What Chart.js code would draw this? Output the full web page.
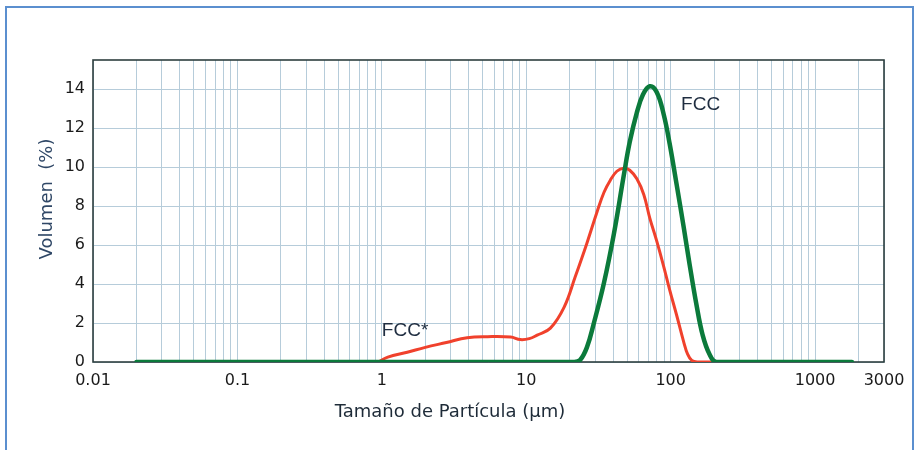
<!DOCTYPE html>
<html>
<head>
<meta charset="utf-8">
<script src="https://cdn.jsdelivr.net/npm/chart.js@4"></script>
<style>
  html, body { margin: 0; padding: 0; background: #ffffff; }
  #wrap { position: relative; width: 917px; height: 450px; }
  #frame { position: absolute; left: 5px; top: 6px; width: 909px; height: 460px;
           border-left: 2px solid #5b8fcf; border-top: 2px solid #5b8fcf; border-right: 2px solid #5b8fcf; box-sizing: border-box; }
  canvas { position: absolute; left: 0; top: 0; }
</style>
</head>
<body>
<div id="wrap">
  <div id="frame"></div>
  <canvas id="c" width="917" height="450"></canvas>
</div>
<script>
// ---- data ----
const fccX = [0.02, 21.5, 23.6, 26.3, 29.4, 34.5, 40.5, 47.4, 52.1, 58.3, 64.1, 71.6, 80.1, 89.5, 98.4, 110, 122.9, 135.3, 151.2, 166.3, 185.7, 207.5, 1800];
const fccY = [0, 0, 0.1, 0.75, 2.0, 4.05, 6.6, 9.6, 11.3, 12.8, 13.7, 14.15, 13.85, 12.7, 11.2, 9.1, 6.95, 5.0, 2.9, 1.4, 0.4, 0, 0];

const fccStarX = [0.95, 1.1, 1.5, 2.0, 2.8, 3.9, 5.4, 7.8, 9.1, 10.5, 11.9, 14.7, 18.3, 21.8, 26.3, 30.9, 34.5, 38.2, 42.4, 47.4, 52.1, 58.3, 65.1, 71.6, 80.1, 89.5, 98.4, 110, 122.9, 131, 140, 153, 210];
const fccStarY = [0, 0.25, 0.5, 0.75, 1.0, 1.25, 1.3, 1.28, 1.15, 1.2, 1.38, 1.74, 2.82, 4.36, 6.1, 7.7, 8.7, 9.33, 9.79, 9.95, 9.84, 9.4, 8.6, 7.4, 6.2, 4.9, 3.7, 2.4, 1.05, 0.4, 0.08, 0, 0];

const xLabelValues = [0.01, 0.1, 1, 10, 100, 1000, 3000];
const xLabelTexts  = ['0.01', '0.1', '1', '10', '100', '1000', '3000'];
const yTickValues  = [0, 2, 4, 6, 8, 10, 12, 14];

const seriesNames = ['FCC', 'FCC*'];
const xTitle = 'Tamaño de Partícula (µm)';
const yTitle = 'Volumen  (%)';

// grid values: 1..9 x each decade, up to 3000
const xGridValues = [];
for (let d = -2; d <= 2; d++) {
  for (let m = 1; m <= 9; m++) xGridValues.push(parseFloat((m * Math.pow(10, d)).toPrecision(6)));
}
xGridValues.push(1000, 2000, 3000);

const toPoints = (xs, ys) => xs.map((x, i) => ({ x: x, y: ys[i] }));

const frameAndText = {
  id: 'frameAndText',
  beforeDatasetsDraw(chart) {
    const { ctx, chartArea: a } = chart;
    ctx.save();
    ctx.strokeStyle = '#2e3f3f';
    ctx.lineWidth = 1.6;
    ctx.strokeRect(a.left, a.top, a.right - a.left, a.bottom - a.top);
    ctx.restore();
  },
  afterDatasetsDraw(chart) {
    const { ctx } = chart;
    const xs = chart.scales.x, ys = chart.scales.y;
    ctx.save();
    ctx.fillStyle = '#1f2d40';
    ctx.font = '19px "Liberation Sans", Arial, sans-serif';
    ctx.textAlign = 'left';
    ctx.textBaseline = 'middle';
    ctx.fillText(seriesNames[0], xs.getPixelForValue(118), ys.getPixelForValue(13.2));
    ctx.fillText(seriesNames[1], xs.getPixelForValue(1.0), ys.getPixelForValue(1.6));
    ctx.fillStyle = '#1e2b38';
    ctx.font = '18px "DejaVu Sans", sans-serif';
    ctx.textAlign = 'center';
    ctx.fillText(xTitle, 450, 412);
    ctx.translate(47, 199);
    ctx.rotate(-Math.PI / 2);
    ctx.fillStyle = '#2f4766';
    ctx.fillText(yTitle, 0, 0);
    ctx.restore();
  }
};

new Chart(document.getElementById('c'), {
  type: 'line',
  data: {
    datasets: [
      { label: seriesNames[0], data: toPoints(fccX, fccY), borderColor: '#0b7a3b', borderWidth: 4.5,
        pointRadius: 0, tension: 0.4, borderCapStyle: 'round', borderJoinStyle: 'round', fill: false },
      { label: seriesNames[1], data: toPoints(fccStarX, fccStarY), borderColor: '#f0412c', borderWidth: 3,
        pointRadius: 0, tension: 0.4, borderCapStyle: 'round', borderJoinStyle: 'round', fill: false }
    ]
  },
  options: {
    responsive: false,
    animation: false,
    events: [],
    layout: { padding: { left: 0, top: 60, right: 33, bottom: 0 } },
    plugins: { legend: { display: false }, tooltip: { enabled: false }, title: { display: false } },
    scales: {
      x: {
        type: 'logarithmic',
        min: 0.01, max: 3000,
        border: { display: false },
        grid: { color: '#b6ccda', lineWidth: 1, drawTicks: false },
        afterBuildTicks(scale) { scale.ticks = xGridValues.map(v => ({ value: v })); },
        afterFit(scale) { scale.height = 88; },
        ticks: {
          autoSkip: false, maxRotation: 0, minRotation: 0, padding: 9,
          color: '#1a1a1a',
          font: { family: '"DejaVu Sans", sans-serif', size: 16 },
          callback(value) {
            const i = xLabelValues.findIndex(v => Math.abs(v - value) / v < 1e-6);
            return i >= 0 ? xLabelTexts[i] : '';
          }
        }
      },
      y: {
        type: 'linear',
        min: 0, max: 15.5,
        border: { display: false },
        grid: { color: '#b6ccda', lineWidth: 1, drawTicks: false },
        afterBuildTicks(scale) { scale.ticks = yTickValues.map(v => ({ value: v })); },
        afterFit(scale) { scale.width = 93; },
        ticks: {
          padding: 8,
          color: '#1a1a1a',
          font: { family: '"DejaVu Sans", sans-serif', size: 16 }
        }
      }
    }
  },
  plugins: [frameAndText]
});
</script>
</body>
</html>
